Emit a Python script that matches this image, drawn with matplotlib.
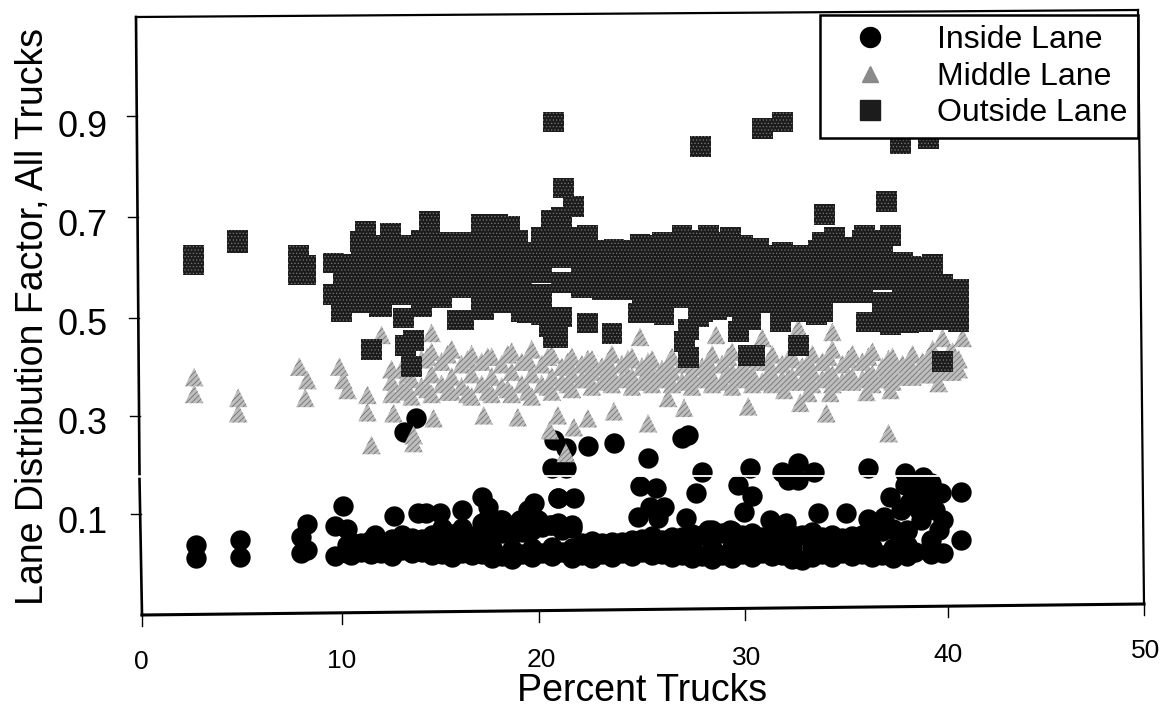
import matplotlib
matplotlib.use('Agg')
import matplotlib.pyplot as plt
from matplotlib.lines import Line2D
from matplotlib.transforms import Affine2D

plt.rcParams['font.family'] = ['Liberation Sans', 'DejaVu Sans']
plt.rcParams['hatch.linewidth'] = 0.5

# Outside lane: scattered squares
OUT_X = [2.6, 2.6, 4.8, 4.8, 7.85, 7.85, 8.2, 8.2, 9.6, 9.6, 10.0, 11.2, 10.95, 12.45, 14.4, 17.0, 17.8, 18.4, 18.8,
         20.6, 20.5, 21.1, 21.6, 27.9, 31.0, 32.0, 37.9, 39.3, 37.2, 34.1,
         22.3, 23.6, 24.9, 26.1, 27.0, 28.3, 29.4, 30.8, 32.0, 33.8, 34.6, 36.1, 37.4, 38.4, 39.5,
         11.9, 13.1, 13.6, 13.2, 11.5, 13.5, 15.8, 16.1, 17.1, 19.3, 20.4, 20.6,
         23.5, 22.3, 20.8, 25.3, 26.1, 24.8, 27.3, 27.1, 27.3, 27.8, 28.7, 29.8, 30.6, 30.3, 30.1, 30.4, 31.9,
         32.8, 32.3, 33.7, 36.2, 37.4, 38.3, 39.8, 40.8, 40.0]
OUT_Y = [0.625, 0.605, 0.655, 0.650, 0.625, 0.585, 0.603, 0.585, 0.609, 0.546, 0.510, 0.673, 0.652, 0.669, 0.692, 0.687, 0.687, 0.683, 0.655,
         0.893, 0.695, 0.760, 0.722, 0.843, 0.880, 0.893, 0.850, 0.860, 0.732, 0.706,
         0.665, 0.637, 0.647, 0.651, 0.665, 0.665, 0.661, 0.639, 0.631, 0.635, 0.661, 0.665, 0.665, 0.601, 0.605,
         0.520, 0.498, 0.453, 0.443, 0.435, 0.400, 0.494, 0.494, 0.514, 0.508, 0.480, 0.458,
         0.466, 0.488, 0.458, 0.508, 0.504, 0.508, 0.474, 0.450, 0.419, 0.500, 0.514, 0.470, 0.423, 0.423, 0.514, 0.494, 0.490,
         0.442, 0.514, 0.504, 0.490, 0.484, 0.488, 0.494, 0.490, 0.411]

# Outside lane: the dense band, one value per row and column
BAND_X = [10.1, 11.0, 12.0, 13.0, 14.0, 15.0, 16.0, 17.0, 18.0, 19.0, 20.0, 21.0, 22.0, 23.0, 24.0, 25.0, 26.0,
          27.0, 28.0, 29.0, 30.0, 31.0, 32.0, 33.0, 34.0, 35.0, 36.0, 37.0, 38.0, 39.0, 40.0, 40.8]
BAND_1 = [.605, .650, .645, .645, .655, .650, .650, .660, .665, .630, .660, .700, .660, .635, .635, .645, .650,
          .650, .655, .650, .645, .625, .620, .625, .650, .640, .655, .655, .610, .600, .565, .555]
BAND_2 = [.590, .615, .610, .610, .620, .615, .615, .625, .630, .600, .625, .660, .625, .610, .610, .610, .615,
          .620, .620, .615, .610, .600, .590, .595, .615, .610, .620, .615, .580, .570, .555, .545]
BAND_3 = [.575, .580, .575, .580, .585, .585, .590, .590, .595, .570, .590, .620, .600, .590, .590, .575, .580,
          .590, .585, .585, .575, .575, .560, .565, .580, .585, .595, .575, .550, .540, .550, .530]
BAND_4 = [.565, .550, .545, .560, .550, .560, .575, .555, .560, .540, .545, .570, .580, .570, .570, .540, .545,
          .560, .550, .550, .540, .550, .530, .535, .545, .565, .570, .530, .520, .515, .545, .530]
BAND_5 = [.550, .530, .520, .545, .520, .540, .560, .520, .530, .510, .505, .500, .560, .555, .555, .510, .510,
          .540, .510, .520, .510, .530, .510, .510, .510, .550, .550, .490, .490, .490, .535, .530]

# Middle lane: scattered triangles
MID_X = [2.65, 2.65, 4.85, 4.85, 7.9, 8.3, 8.2, 9.9, 10.1, 10.3, 11.3, 11.3, 11.5, 12.6, 13.6, 13.6, 14.6, 12.0, 14.5,
         18.8, 17.1, 20.4, 23.6, 25.3, 27.1, 30.3, 32.9, 34.2, 37.3, 21.2, 22.3, 21.6, 20.8, 26.3, 33.3, 34.4,
         32.1, 36.2, 37.4, 39.8, 24.9, 32.8, 34.5, 28.7, 31.0, 40.0, 41.0]
MID_Y = [.379, .345, .337, .306, .400, .373, .337, .400, .373, .353, .343, .308, .242, .306, .262, .246, .296, .464, .468,
         .298, .302, .272, .310, .286, .317, .320, .327, .306, .266, .226, .296, .278, .302, .337, .347, .347,
         .353, .349, .353, .367, .460, .478, .470, .464, .458, .458, .458]

# Middle lane: the dense band, staggered sets of columns
MID_XA = [12.5, 13.5, 14.5, 15.5, 16.5, 17.5, 18.5, 19.5, 20.5, 21.5, 22.5, 23.5, 24.5, 25.5, 26.5, 27.5, 28.5,
          29.5, 30.5, 31.5, 32.5, 33.5, 34.5, 35.5, 36.5, 37.5, 38.5, 39.5, 40.5]
MID_A1 = [.395, .405, .430, .435, .425, .420, .430, .435, .425, .420, .415, .425, .420, .415, .420, .410, .425,
          .430, .420, .425, .420, .425, .435, .425, .430, .420, .425, .435, .430]
MID_A2 = [.370, .375, .385, .380, .385, .380, .390, .385, .380, .385, .390, .385, .380, .385, .390, .385, .380,
          .390, .385, .385, .380, .390, .385, .380, .385, .390, .395, .390, .395]
MID_A3 = [.345, .340, .345, .350, .340, .345, .345, .340, .350, .355, .360, .365, .360, .365, .365, .360, .365,
          .360, .365, .365, .370, .365, .365, .370, .365, .370, .380, .385, .390]
MID_XB = [13.0, 14.0, 15.0, 16.0, 17.0, 18.0, 19.0, 20.0, 21.0, 22.0, 23.0, 24.0, 25.0, 26.0, 27.0, 28.0, 29.0,
          30.0, 31.0, 32.0, 33.0, 34.0, 35.0, 36.0, 37.0, 38.0, 39.0, 40.0, 40.8]
MID_B1 = [.395, .415, .410, .405, .410, .405, .410, .405, .400, .405, .400, .405, .400, .395, .405, .400, .405,
          .400, .410, .405, .400, .410, .405, .410, .400, .405, .410, .410, .415]
MID_B2 = [.355, .360, .365, .360, .365, .360, .365, .365, .370, .375, .370, .375, .370, .375, .370, .375, .370,
          .375, .370, .375, .370, .375, .370, .375, .375, .380, .385, .390, .395]
MID_XC = [13.3, 14.3, 15.3, 16.3, 17.3, 18.3, 19.3, 20.3, 21.3, 22.3, 23.3, 24.3, 25.3, 26.3, 27.3, 28.3, 29.3,
          30.3, 31.3, 32.3, 33.3, 34.3, 35.3, 36.3, 37.3, 38.3, 39.3, 40.3]
MID_C1 = [.385, .420, .425, .415, .420, .425, .415, .420, .410, .415, .410, .415, .410, .405, .415, .410, .420,
          .415, .410, .415, .410, .420, .415, .420, .415, .410, .420, .425]
MID_C2 = [.350, .355, .350, .345, .350, .355, .350, .360, .365, .380, .385, .380, .385, .380, .375, .380, .385,
          .380, .385, .375, .380, .385, .380, .385, .380, .385, .395, .405]

# Inside lane: scattered circles
INS_X = [2.75, 2.75, 4.95, 4.95, 8.3, 8.0, 8.0, 8.3, 10.1, 9.7, 10.3, 9.7, 10.3, 10.3, 12.6, 13.8, 14.2, 14.9, 16.0,
         17.0, 17.3, 17.9, 17.1, 19.6, 19.3, 18.9, 20.8, 20.4, 13.7, 13.1, 20.6, 21.2, 22.3, 23.6, 25.3, 27.0, 27.3,
         20.5, 21.2, 20.8, 21.6, 28.0, 30.4, 32.0, 32.8, 33.6, 32.3, 32.8, 36.3, 38.1, 39.0, 24.9, 25.7, 27.7, 29.8,
         30.5, 25.4, 26.1, 24.8, 25.8, 27.2, 30.1, 33.8, 35.2, 28.3, 29.4, 31.4, 32.2, 36.3, 37.1, 37.4, 38.1, 38.9,
         40.9, 39.9, 39.6, 40.0, 40.9, 38.6, 40.0, 37.9, 39.4,
         38.5, 39.0, 38.8, 39.3, 38.3, 39.5, 38.9, 38.2, 39.8,
         15.0, 16.0, 17.0, 18.0, 18.6, 19.8, 20.8, 21.5, 11.7, 13.0]
INS_Y = [.040, .014, .050, .016, .083, .056, .024, .030, .119, .079, .073, .018, .024, .040, .099, .105, .105, .105, .111,
         .137, .117, .091, .087, .125, .111, .091, .135, .081, .296, .268, .252, .236, .240, .246, .216, .256, .262,
         .196, .196, .135, .135, .188, .196, .188, .206, .188, .171, .171, .196, .185, .177, .159, .155, .145, .161,
         .139, .117, .117, .097, .095, .095, .107, .105, .105, .071, .071, .091, .085, .093, .097, .137, .161, .157,
         .147, .145, .111, .091, .050, .026, .024, .111, .165,
         .140, .130, .110, .120, .125, .140, .090, .070, .070,
         .075, .075, .085, .090, .080, .090, .085, .080, .060, .060]

# Inside lane: the dense band along the bottom
INS_BX = [10.5, 11.5, 12.5, 13.5, 14.5, 15.5, 16.5, 17.5, 18.5, 19.5, 20.5, 21.5, 22.5, 23.5, 24.5, 25.5, 26.5,
          27.5, 28.5, 29.5, 30.5, 31.5, 32.5, 33.5, 34.5, 35.5, 36.5, 37.5, 38.2, 39.4]
INS_B1 = [.020, .022, .018, .024, .020, .016, .020, .014, .012, .016, .018, .014, .014, .016, .018, .020, .016,
          .014, .012, .014, .016, .018, .012, .016, .016, .018, .016, .014, .018, .022]
INS_B2 = [.035, .036, .034, .038, .036, .034, .036, .034, .032, .034, .036, .034, .032, .034, .036, .036, .034,
          .036, .034, .036, .034, .036, .034, .036, .036, .034, .036, .034, .040, .038]
INS_B3 = [.046, .050, .052, .055, .060, .062, .058, .068, .062, .070, .080, .075, .048, .046, .050, .058, .056,
          .062, .070, .068, .064, .058, .060, .066, .060, .058, .066, .072, .068, .050]
INS_CX = [11.0, 12.0, 13.0, 14.0, 15.0, 16.0, 17.0, 18.0, 19.0, 20.0, 21.0, 22.0, 23.0, 24.0, 25.0, 26.0, 27.0,
          28.0, 29.0, 30.0, 31.0, 32.0, 33.0, 34.0, 35.0, 36.0, 37.0, 38.0]
INS_C1 = [.026, .024, .030, .026, .022, .024, .022, .018, .022, .024, .026, .020, .022, .024, .026, .022, .020,
          .018, .020, .022, .024, .020, .010, .022, .024, .022, .020, .024]
INS_C2 = [.044, .046, .048, .052, .056, .054, .060, .064, .066, .076, .070, .044, .044, .046, .052, .050, .056,
          .060, .064, .060, .056, .054, .060, .056, .054, .060, .068, .060]

LEGEND_LABELS = ['Inside Lane', 'Middle Lane', 'Outside Lane']
Y_TICKS = [0.1, 0.3, 0.5, 0.7, 0.9]
X_TICKS = [0, 10, 20, 30, 40, 50]
W, H = 1160, 709

fig = plt.figure(figsize=(W / 100, H / 100), dpi=100)
ax = fig.add_axes([141 / W, (H - 614) / H, 1002 / W, (614 - 17) / H])

DARK = '#1c1c1c'
GREY = '#bdbdbd'
CIRC_S = 215
TRI_S = 180
SQ_S = 225

ins_xs = INS_X + INS_BX * 3 + INS_CX * 2
ins_ys = INS_Y + INS_B1 + INS_B2 + INS_B3 + INS_C1 + INS_C2
ax.scatter(ins_xs, ins_ys, s=CIRC_S, marker='o', c='black', linewidths=0, zorder=2)

mid_xs = MID_X + MID_XA * 3 + MID_XB * 2 + MID_XC * 2
mid_ys = MID_Y + MID_A1 + MID_A2 + MID_A3 + MID_B1 + MID_B2 + MID_C1 + MID_C2
ax.scatter(mid_xs, mid_ys, s=TRI_S, marker='^', facecolor=GREY, edgecolor='#666666', hatch='//////',
           linewidths=0, zorder=3)

out_xs = OUT_X + BAND_X * 5
out_ys = OUT_Y + BAND_1 + BAND_2 + BAND_3 + BAND_4 + BAND_5
ax.scatter(out_xs, out_ys, s=SQ_S, marker='s', facecolor=DARK, edgecolor='#777777', hatch='.....',
           linewidths=0, zorder=4)

# thin white scan line that runs through the lower part of the plot
ax.hlines(0.179, 0, 40, color='white', lw=1.3, zorder=5)

ax.set_xlim(0, 50)
ax.set_ylim(-0.0988, 1.1048)
ax.set_xticks(X_TICKS)
ax.set_yticks(Y_TICKS)
ax.set_yticklabels(['0.1', '0.3', '0.5', '0.7', '0.9'])
ax.tick_params(axis='y', labelsize=26, length=0, pad=24)
ax.tick_params(axis='x', labelsize=19, length=0, pad=26)
for s in ax.spines.values():
    s.set_visible(False)

# tick labels follow the tilt of the scanned page
for lab in ax.get_yticklabels():
    lab.set_transform(lab.get_transform() + Affine2D().translate(0, -4.5))
for lab, dx, dy in zip(ax.get_xticklabels(), [0, 0, 0, 4, 5, 3], [0, 1, 2, 4, 7, 11]):
    lab.set_transform(lab.get_transform() + Affine2D().translate(dx, dy))

ax.set_xlabel('Percent Trucks', fontsize=27)
ax.xaxis.set_label_coords(0.5, -0.098, transform=ax.transAxes)
ax.set_ylabel('Lane Distribution Factor, All Trucks', fontsize=27)
ax.yaxis.set_label_coords(-0.090, 0.4975, transform=ax.transAxes)


def px_line(xs, ys, lw=1.9):
    fig.add_artist(Line2D([x / W for x in xs], [1 - y / H for y in ys], color='black', lw=lw,
                          solid_capstyle='projecting'))


# the frame is slightly rotated in the scan, so it is drawn by hand
px_line([136, 1138], [17, 10], lw=1.6)
px_line([1138, 1144], [10, 604], lw=1.6)
px_line([1144, 142], [604, 615], lw=2.2)
px_line([136, 139.5], [17, 474])
px_line([139.5, 142], [479, 615])
for py in [116, 217, 318, 416, 514]:
    x0 = 136 + (py - 17) * 6 / 598
    px_line([x0 - 10, x0], [py, py], lw=1.0)
for x0, y0 in [(142, 615), (342, 613), (539, 611), (745, 608.5), (948, 606), (1144, 604)]:
    px_line([x0, x0], [y0, y0 + 11], lw=1.0)

handles = [
    Line2D([], [], ls='', marker='o', mfc='black', mec='black', ms=14.4),
    Line2D([], [], ls='', marker='^', mfc='#8a8a8a', mec='#8a8a8a', ms=12),
    Line2D([], [], ls='', marker='s', mfc=DARK, mec=DARK, ms=14),
]
leg = ax.legend(handles, LEGEND_LABELS, loc='upper right', bbox_to_anchor=(0.995, 1.003), fontsize=23,
                frameon=True, fancybox=False, framealpha=1, edgecolor='black', borderaxespad=0,
                labelspacing=0.2, handletextpad=0.85, handlelength=2.5, borderpad=0.32)
leg.get_frame().set_linewidth(1.8)
leg.set_zorder(10)

fig.savefig('out.png', dpi=100)
